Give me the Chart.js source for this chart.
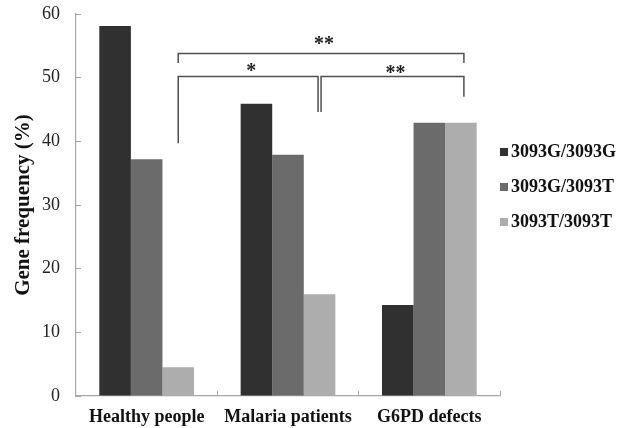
<!DOCTYPE html>
<html lang="en">
<head>
  <meta charset="UTF-8">
  <title>Gene frequency</title>
  <style>
    html, body { margin: 0; padding: 0; background: #fff; }
    .chart-container { position: relative; width: 617px; height: 428px; }
  </style>
</head>
<body>
  <div class="chart-container">
    <canvas id="geneChart" width="617" height="428"></canvas>
  </div>

  <script src="https://cdn.jsdelivr.net/npm/chart.js"></script>
  <script>
    const groups = ['Healthy people', 'Malaria patients', 'G6PD defects'];
    const genotypes = ['3093G/3093G', '3093G/3093T', '3093T/3093T'];
    const ggValues = [58.1, 45.9, 14.3];
    const gtValues = [37.2, 37.9, 42.9];
    const ttValues = [4.5, 16.0, 42.9];
    const yTicks = [0, 10, 20, 30, 40, 50, 60];

    // significance brackets between the 3093T/3093T bars
    const bracketPairs = [[0, 2], [0, 1], [1, 2]];
    const bracketTops = [53.8, 50.2, 50.2];
    const bracketLegEnds = [[52.3, 52.3], [39.7, 44.6], [44.6, 47.0]];
    const bracketMarks = ['**', '*', '**'];

    const barColors = ['#303030', '#6b6b6b', '#adadad'];
    const axisColor = '#a8a8a8';
    const serif = "'Liberation Serif', 'Times New Roman', serif";

    const bracketPlugin = {
      id: 'brackets',
      afterDatasetsDraw(chart) {
        const { ctx } = chart;
        const y = chart.scales.y;
        const tt = chart.getDatasetMeta(2).data;
        const markLift = [13, 9, 7];
        ctx.save();
        ctx.strokeStyle = '#505050';
        ctx.lineWidth = 1.5;
        ctx.fillStyle = '#222';
        ctx.font = 'bold 20px ' + serif;
        ctx.textAlign = 'center';
        ctx.textBaseline = 'middle';
        bracketPairs.forEach((p, i) => {
          let x1 = tt[p[0]].x, x2 = tt[p[1]].x + 3;
          if (i === 1) x2 = tt[p[1]].x - 1.5;
          if (i === 2) x1 = tt[p[0]].x + 1.5;
          const top = y.getPixelForValue(bracketTops[i]);
          ctx.beginPath();
          ctx.moveTo(x1, y.getPixelForValue(bracketLegEnds[i][0]));
          ctx.lineTo(x1, top);
          ctx.lineTo(x2, top);
          ctx.lineTo(x2, y.getPixelForValue(bracketLegEnds[i][1]));
          ctx.stroke();
          // asterisk glyphs sit high in the em box, so push them down a bit
          ctx.fillText(bracketMarks[i], (x1 + x2) / 2 + 3, top - markLift[i] + 4);
        });
        ctx.restore();
      }
    };

    const legendPlugin = {
      id: 'sideLegend',
      afterDraw(chart) {
        const { ctx } = chart;
        ctx.save();
        ctx.font = 'bold 18px ' + serif;
        ctx.textBaseline = 'middle';
        ctx.textAlign = 'left';
        chart.data.datasets.forEach((ds, i) => {
          const cy = 152 + i * 35;
          ctx.fillStyle = ds.backgroundColor;
          ctx.fillRect(500, cy - 4, 8, 8);
          ctx.fillStyle = '#111';
          ctx.fillText(ds.label, 511, cy);
        });
        ctx.restore();
      }
    };

    const data = {
      labels: groups,
      datasets: [
        { label: genotypes[0], data: ggValues, backgroundColor: barColors[0] },
        { label: genotypes[1], data: gtValues, backgroundColor: barColors[1] },
        { label: genotypes[2], data: ttValues, backgroundColor: barColors[2] }
      ]
    };

    const config = {
      type: 'bar',
      data: data,
      plugins: [bracketPlugin, legendPlugin],
      options: {
        responsive: false,
        animation: false,
        layout: { padding: { top: 14, right: 117, left: 0, bottom: 0 } },
        datasets: {
          bar: { categoryPercentage: 0.67, barPercentage: 1.0, borderWidth: 0 }
        },
        scales: {
          x: {
            grid: {
              offset: true,
              drawOnChartArea: false,
              drawTicks: true,
              tickLength: -5,
              color: axisColor
            },
            border: { color: axisColor, width: 1.2 },
            ticks: {
              color: '#111',
              padding: 16,
              font: { family: serif, size: 18, weight: 'bold' }
            },
            afterFit(scale) {
              scale.height = 32;
              scale.paddingLeft = 0;
              scale.paddingRight = 0;
            }
          },
          y: {
            min: 0,
            max: 60,
            afterBuildTicks(scale) { scale.ticks = yTicks.map(v => ({ value: v })); },
            grid: {
              drawOnChartArea: false,
              drawTicks: true,
              tickLength: -5,
              color: axisColor
            },
            border: { color: axisColor, width: 1.2 },
            ticks: {
              color: '#222',
              padding: 21,
              font: { family: serif, size: 18 }
            },
            title: {
              display: true,
              text: 'Gene frequency (%)',
              color: '#111',
              padding: { top: 11, bottom: 0 },
              font: { family: serif, size: 21, weight: 'bold' }
            },
            afterFit(scale) {
              scale.width = 76;
              scale.paddingTop = 0;
              scale.paddingBottom = 0;
            }
          }
        },
        plugins: {
          legend: { display: false },
          tooltip: { enabled: false }
        }
      }
    };

    const ctx = document.getElementById('geneChart').getContext('2d');
    const geneChart = new Chart(ctx, config);
  </script>
</body>
</html>
